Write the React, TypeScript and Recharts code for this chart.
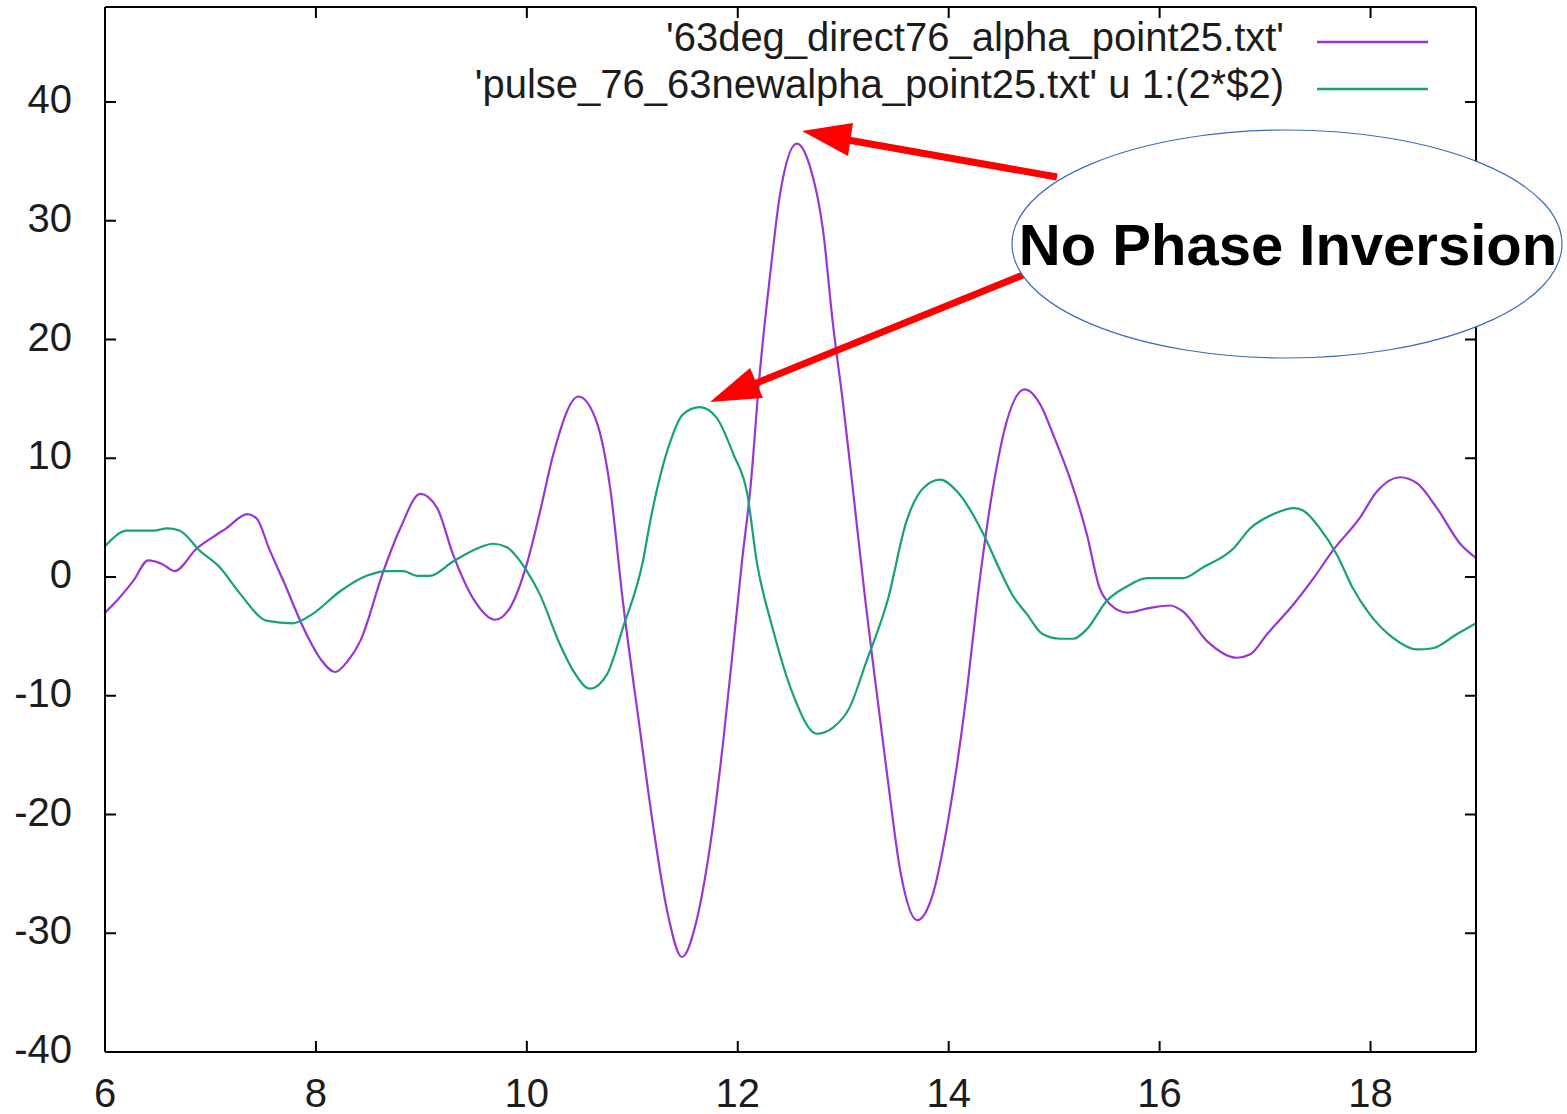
import React from 'react';
import { LineChart, Line, XAxis, YAxis } from 'recharts';

// ---- data ----
const seriesNames = [
  "'63deg_direct76_alpha_point25.txt'",
  "'pulse_76_63newalpha_point25.txt' u 1:(2*$2)",
];
const seriesColors = ['#9a35d4', '#16a07e'];

const alphaX = [6.00, 6.08, 6.27, 6.41, 6.54, 6.66, 6.87, 7.03, 7.15, 7.35, 7.44, 7.56, 7.69, 7.91, 8.06, 8.18, 8.30, 8.42, 8.64, 8.80, 8.99, 9.15, 9.30, 9.49, 9.70, 9.84, 10.00, 10.12, 10.25, 10.49, 10.66, 10.79, 10.91, 11.07, 11.20, 11.33, 11.47, 11.61, 11.74, 11.86, 11.96, 12.04, 12.12, 12.21, 12.31, 12.40, 12.56, 12.68, 12.81, 12.90, 13.00, 13.09, 13.21, 13.28, 13.42, 13.54, 13.70, 13.85, 14.01, 14.17, 14.27, 14.42, 14.55, 14.72, 14.87, 14.99, 15.15, 15.31, 15.43, 15.53, 15.69, 15.91, 16.10, 16.22, 16.45, 16.73, 16.86, 17.02, 17.27, 17.46, 17.64, 17.90, 18.06, 18.28, 18.44, 18.63, 18.85, 19.00];
const alphaY = [-3.0, -2.3, -0.3, 1.4, 1.1, 0.5, 2.4, 3.4, 4.1, 5.3, 4.9, 2.3, -0.3, -4.8, -7.1, -8.0, -7.1, -5.4, 0.5, 4.1, 7.0, 5.8, 1.9, -1.8, -3.6, -2.6, 1.1, 5.3, 10.3, 15.2, 13.1, 7.5, -2.0, -12.7, -21.1, -28.1, -32.0, -28.9, -22.5, -14.0, -5.6, 1.3, 7.5, 17.3, 25.7, 32.2, 36.5, 34.7, 29.1, 21.5, 14.5, 7.5, -2.0, -7.1, -16.9, -24.7, -28.9, -26.7, -19.7, -9.8, -2.0, 7.5, 13.1, 15.8, 14.5, 12.0, 8.3, 3.6, -0.9, -2.3, -3.0, -2.6, -2.4, -2.9, -5.4, -6.8, -6.5, -4.8, -2.3, -0.1, 2.2, 5.0, 7.2, 8.4, 7.9, 5.8, 2.8, 1.6];

const pulseX = [6.00, 6.21, 6.46, 6.59, 6.71, 6.90, 7.09, 7.28, 7.54, 7.78, 7.97, 8.23, 8.48, 8.67, 8.83, 8.96, 9.08, 9.30, 9.53, 9.68, 9.81, 10.00, 10.12, 10.31, 10.44, 10.60, 10.76, 10.91, 11.10, 11.17, 11.36, 11.48, 11.64, 11.80, 11.96, 12.09, 12.18, 12.33, 12.52, 12.75, 12.90, 13.06, 13.22, 13.42, 13.60, 13.76, 13.92, 14.08, 14.33, 14.49, 14.61, 14.74, 14.89, 15.06, 15.18, 15.31, 15.50, 15.69, 15.88, 16.22, 16.41, 16.70, 16.86, 17.08, 17.27, 17.36, 17.52, 17.68, 17.83, 17.99, 18.21, 18.44, 18.59, 18.82, 19.00];
const pulseY = [2.6, 3.9, 3.9, 4.1, 3.9, 2.2, 0.8, -1.4, -3.7, -3.9, -3.1, -1.2, 0.1, 0.5, 0.5, 0.1, 0.1, 1.3, 2.4, 2.8, 2.5, 0.5, -1.4, -5.6, -7.9, -9.4, -8.2, -4.3, 1.3, 4.7, 11.4, 13.7, 14.3, 13.4, 10.3, 7.0, 1.3, -4.3, -9.8, -13.2, -12.7, -11.0, -7.1, -2.0, 4.7, 7.5, 8.2, 7.2, 3.6, 0.5, -1.6, -3.1, -4.8, -5.2, -5.2, -4.4, -2.0, -0.8, -0.1, -0.1, 0.8, 2.4, 4.1, 5.3, 5.8, 5.6, 4.1, 1.9, -0.9, -3.1, -5.1, -6.1, -6.0, -4.8, -3.9];

const xTicks = [6, 8, 10, 12, 14, 16, 18];
const yTicks = [-40, -30, -20, -10, 0, 10, 20, 30, 40];
const xDomain = [6, 19];
const yDomain = [-40, 48];

const annotationText = 'No Phase Inversion';

const alphaData = alphaX.map((x, i) => ({ x, y: alphaY[i] }));
const pulseData = pulseX.map((x, i) => ({ x, y: pulseY[i] }));

// ---- layout ----
const W = 1567;
const H = 1114;
const FONT = "'Liberation Sans', Arial, Helvetica, sans-serif";
const TICK_LEN = 11;
const LABEL_FS = 40;
const LABEL_FILL = '#1c1c1c';

const BottomTick = (props: any) => {
  const { x, y, payload } = props;
  return (
    <g>
      <line x1={x} y1={y} x2={x} y2={y - TICK_LEN} stroke="#000" strokeWidth={2} />
      <text x={x} y={y + 55} textAnchor="middle" fontSize={LABEL_FS} fontFamily={FONT} fill={LABEL_FILL}>
        {payload.value}
      </text>
    </g>
  );
};
const TopTick = (props: any) => {
  const { x, y } = props;
  return <line x1={x} y1={y} x2={x} y2={y + TICK_LEN} stroke="#000" strokeWidth={2} />;
};
const LeftTick = (props: any) => {
  const { x, y, payload } = props;
  return (
    <g>
      <line x1={x} y1={y} x2={x + TICK_LEN} y2={y} stroke="#000" strokeWidth={2} />
      <text x={x - 33} y={y + 11} textAnchor="end" fontSize={LABEL_FS} fontFamily={FONT} fill={LABEL_FILL}>
        {payload.value}
      </text>
    </g>
  );
};
const RightTick = (props: any) => {
  const { x, y } = props;
  return <line x1={x} y1={y} x2={x - TICK_LEN} y2={y} stroke="#000" strokeWidth={2} />;
};

const Overlay = () => (
  <svg width={W} height={H} style={{ position: 'absolute', left: 0, top: 0, pointerEvents: 'none' }}>
    {/* legend */}
    {seriesNames.map((name, i) => (
      <g key={name}>
        <text x={1284} y={51 + i * 47} textAnchor="end" fontSize={40} fontFamily={FONT} fill={LABEL_FILL}>
          {name}
        </text>
        <line x1={1317} y1={42 + i * 47} x2={1428} y2={42 + i * 47} stroke={seriesColors[i]} strokeWidth={2.5} />
      </g>
    ))}
    {/* arrows */}
    <line x1={1057} y1={177} x2={848} y2={140} stroke="#ff0000" strokeWidth={7} />
    <polygon points="802,131 853,123 848,156" fill="#ff0000" />
    <line x1={1023} y1={275} x2={754} y2={384} stroke="#ff0000" strokeWidth={7} />
    <polygon points="710,402 750,368 763,398" fill="#ff0000" />
    {/* callout */}
    <ellipse cx={1287} cy={244} rx={275} ry={114} fill="#ffffff" stroke="#3a6db5" strokeWidth={1.2} />
    <text x={1288} y={265} textAnchor="middle" fontSize={58} fontWeight="bold" fontFamily={FONT} fill="#000">
      {annotationText}
    </text>
  </svg>
);

export default function App() {
  return (
    <div style={{ position: 'absolute', left: 0, top: 0, width: W, height: H, background: '#fff' }}>
      <LineChart width={W} height={H} margin={{ top: 6, right: 90, bottom: 0, left: 0 }}>
        <XAxis
          xAxisId="b"
          type="number"
          dataKey="x"
          domain={xDomain}
          ticks={xTicks}
          interval={0}
          height={62}
          tickSize={0}
          tickMargin={0}
          tickLine={false}
          axisLine={{ stroke: '#000', strokeWidth: 2 }}
          tick={<BottomTick />}
          allowDataOverflow
        />
        <XAxis
          xAxisId="t"
          orientation="top"
          type="number"
          dataKey="x"
          domain={xDomain}
          ticks={xTicks}
          interval={0}
          height={1}
          tickSize={0}
          tickMargin={0}
          tickLine={false}
          axisLine={{ stroke: '#000', strokeWidth: 2 }}
          tick={<TopTick />}
          allowDataOverflow
        />
        <YAxis
          yAxisId="l"
          type="number"
          domain={yDomain}
          ticks={yTicks}
          interval={0}
          width={105}
          tickSize={0}
          tickMargin={0}
          tickLine={false}
          axisLine={{ stroke: '#000', strokeWidth: 2 }}
          tick={<LeftTick />}
          allowDataOverflow
        />
        <YAxis
          yAxisId="r"
          orientation="right"
          type="number"
          domain={yDomain}
          ticks={yTicks}
          interval={0}
          width={1}
          tickSize={0}
          tickMargin={0}
          tickLine={false}
          axisLine={{ stroke: '#000', strokeWidth: 2 }}
          tick={<RightTick />}
          allowDataOverflow
        />
        <Line
          xAxisId="b"
          yAxisId="l"
          data={alphaData}
          dataKey="y"
          name={seriesNames[0]}
          type="monotone"
          stroke={seriesColors[0]}
          strokeWidth={2.2}
          dot={false}
          activeDot={false}
          isAnimationActive={false}
        />
        <Line
          xAxisId="b"
          yAxisId="l"
          data={pulseData}
          dataKey="y"
          name={seriesNames[1]}
          type="monotone"
          stroke={seriesColors[1]}
          strokeWidth={2.2}
          dot={false}
          activeDot={false}
          isAnimationActive={false}
        />
      </LineChart>
      <Overlay />
    </div>
  );
}
